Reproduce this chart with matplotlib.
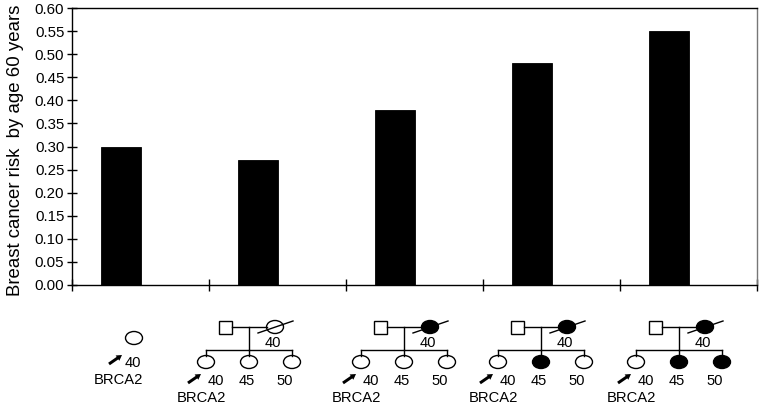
import matplotlib
matplotlib.use("Agg")
import matplotlib.pyplot as plt
from matplotlib.patches import Ellipse, Rectangle

plt.rcParams['font.family'] = ['Liberation Sans', 'DejaVu Sans']

# bar data
risk = [0.30, 0.27, 0.38, 0.48, 0.55]
yticks = [0.00, 0.05, 0.10, 0.15, 0.20, 0.25, 0.30, 0.35, 0.40, 0.45, 0.50, 0.55, 0.60]

# pedigree data (panel 0 is the proband alone)
mother_affected = [None, False, True, True, True]
kids_affected = [None, [False, False, False], [False, False, False],
                 [False, True, False], [False, True, True]]
kid_ages = ['40', '45', '50']
mother_age = '40'
carrier = 'BRCA2'

fig = plt.figure(figsize=(7.6, 4.07), dpi=100)
ax = fig.add_axes([72 / 760, 1 - 285 / 407, 685 / 760, 277 / 407])

pos = range(len(risk))
ax.bar([p - 0.145 for p in pos], risk, width=0.29, color='black', edgecolor='black', lw=0.6)
ax.set_xlim(-0.5, len(risk) - 0.5)
ax.set_ylim(0, 0.60)
ax.set_yticks(yticks)
ax.set_yticklabels(['%.2f' % v for v in yticks], fontsize=10.8)
ax.set_xticks([p - 0.5 for p in range(len(risk) + 1)])
ax.set_xticklabels([])
ax.tick_params(axis='y', direction='inout', length=7, width=1.0, pad=2)
ax.tick_params(axis='x', direction='inout', length=8, width=1.0)
for s in ax.spines.values():
    s.set_linewidth(1.0)
ax.spines['right'].set_color('#777777')

fig.text(16 / 760, 1 - 150 / 407, 'Breast cancer risk  by age 60 years',
         rotation=90, ha='center', va='center', fontsize=13.4)

# overlay in pixel units for the pedigrees
pa = fig.add_axes([0, 0, 1, 1])
pa.set_xlim(0, 760)
pa.set_ylim(407, 0)
pa.axis('off')
pa.patch.set_alpha(0)

lw = 1.0
fs = 10.6


def circle(x, y, filled):
    pa.add_patch(Ellipse((x, y), 17, 13, facecolor='black' if filled else 'white',
                         edgecolor='black', lw=lw))


def proband_arrow(x, y):
    pa.arrow(x, y, 13, -9, width=3.0, head_width=6.5, head_length=5.5,
             length_includes_head=True, color='black', lw=0)


# first panel: single proband
circle(134, 338, False)
proband_arrow(109, 364)
pa.text(133, 363, '40', ha='center', va='center', fontsize=fs)
pa.text(118, 380, carrier, ha='center', va='center', fontsize=fs)

centers = [None, 249, 404, 541, 679]
for i in range(1, len(centers)):
    c = centers[i]
    # parents
    pa.add_patch(Rectangle((c - 30.5, 320.5), 13, 13, facecolor='white', edgecolor='black', lw=lw))
    pa.plot([c - 17.5, c + 17.5], [327, 327], color='black', lw=lw)
    circle(c + 26, 327, mother_affected[i])
    pa.plot([c + 9, c + 44], [333, 321], color='black', lw=lw)
    pa.text(c + 24, 343, mother_age, ha='center', va='center', fontsize=fs)
    # sibship
    pa.plot([c, c], [327, 350], color='black', lw=lw)
    kx = [c - 43, c, c + 43]
    pa.plot([kx[0], kx[-1]], [350, 350], color='black', lw=lw)
    for x, aff in zip(kx, kids_affected[i]):
        pa.plot([x, x], [350, 355.5], color='black', lw=lw)
        circle(x, 362, aff)
    for x, a in zip([c - 33.5, c - 2, c + 36], kid_ages):
        pa.text(x, 381, a, ha='center', va='center', fontsize=fs)
    proband_arrow(c - 61, 383)
    pa.text(c - 48, 398, carrier, ha='center', va='center', fontsize=fs)

fig.savefig('out.png', dpi=100)
